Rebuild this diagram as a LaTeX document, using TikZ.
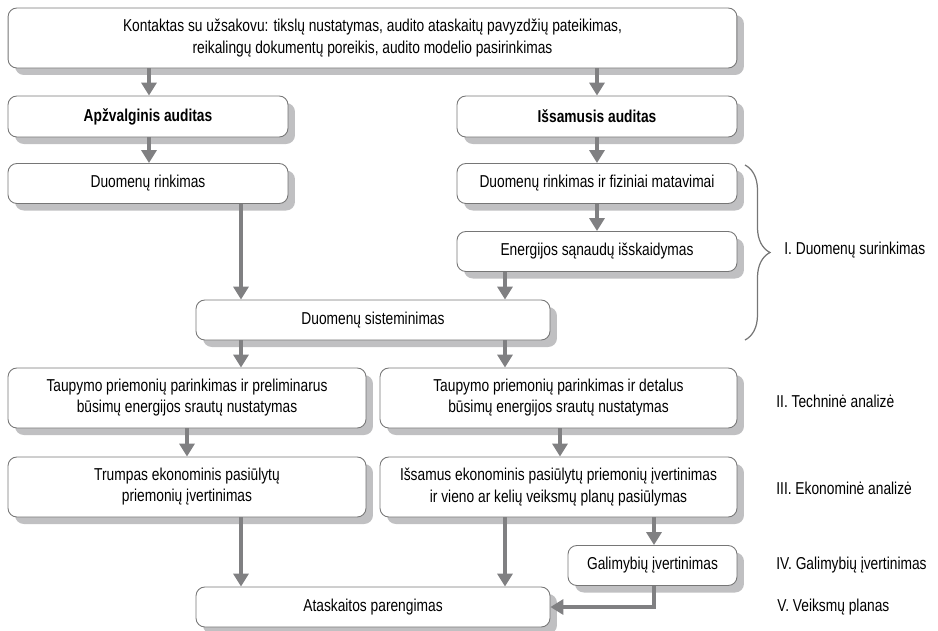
\documentclass[tikz,border=0pt]{standalone}
\usepackage{fontspec}
\setmainfont{Liberation Sans}[FakeStretch=0.8]
\usetikzlibrary{arrows.meta,shadows,decorations.pathreplacing}
\definecolor{rodyklespalva}{RGB}{128,128,130}
\definecolor{seselis}{RGB}{192,192,194}
\definecolor{remelis}{RGB}{118,118,118}
\tikzset{
  blokas/.style={draw=remelis, line width=0.5pt, fill=white, rounded corners=5pt,
    inner sep=0pt, align=center, font=\fontsize{9.8}{12}\selectfont,
    drop shadow={shadow xshift=0.14cm, shadow yshift=-0.14cm, fill=seselis, opacity=1}},
  rodykle/.style={draw=rodyklespalva, line width=2.8pt,
    -{Triangle[width=0.3cm,length=0.26cm]}},
  etape/.style={anchor=west, inner sep=0pt, font=\fontsize{9.8}{12}\selectfont}
}
\begin{document}
\begin{tikzpicture}[x=0.02cm, y=-0.02cm]
        \useasboundingbox (0,0) rectangle (938,630);
        % 上の長方形
        \node[blokas, minimum width=14.58cm, minimum height=1.2cm] (kontaktas) at (372.5,38)
          {Kontaktas su užsakovu: tikslų nustatymas, audito ataskaitų pavyzdžių pateikimas,\\
           reikalingų dokumentų poreikis, audito modelio pasirinkimas};
        % 二つの監査
        \node[blokas, minimum width=5.6cm, minimum height=0.82cm, font=\fontsize{9.8}{12}\selectfont\bfseries] (apzvalginis) at (148,116.5) {Apžvalginis auditas};
        \node[blokas, minimum width=5.6cm, minimum height=0.82cm, font=\fontsize{9.8}{12}\selectfont\bfseries] (issamusis) at (597,116.5) {Išsamusis auditas};
        % I. データ収集
        \node[blokas, minimum width=5.6cm, minimum height=0.8cm] (rinkimas) at (148,183.5) {Duomenų rinkimas};
        \node[blokas, minimum width=5.6cm, minimum height=0.8cm] (matavimai) at (597,183.5) {Duomenų rinkimas ir fiziniai matavimai};
        \node[blokas, minimum width=5.6cm, minimum height=0.8cm] (isskaidymas) at (597,251.5) {Energijos sąnaudų išskaidymas};
        \node[blokas, minimum width=7.08cm, minimum height=0.8cm] (sisteminimas) at (373,320) {Duomenų sisteminimas};
        % II. と III.
        \node[blokas, minimum width=7.16cm, minimum height=1.2cm] (preliminarus) at (187,398)
          {Taupymo priemonių parinkimas ir preliminarus\\ būsimų energijos srautų nustatymas};
        \node[blokas, minimum width=7.14cm, minimum height=1.2cm] (detalus) at (558.5,398)
          {Taupymo priemonių parinkimas ir detalus\\ būsimų energijos srautų nustatymas};
        \node[blokas, minimum width=7.16cm, minimum height=1.2cm] (trumpas) at (187,487)
          {Trumpas ekonominis pasiūlytų\\ priemonių įvertinimas};
        \node[blokas, minimum width=7.14cm, minimum height=1.2cm] (issamus) at (558.5,487)
          {Išsamus ekonominis pasiūlytų priemonių įvertinimas\\ ir vieno ar kelių veiksmų planų pasiūlymas};
        % IV. と V.
        \node[blokas, minimum width=3.38cm, minimum height=0.8cm] (galimybes) at (652.5,565.5) {Galimybių įvertinimas};
        \node[blokas, minimum width=7.08cm, minimum height=0.8cm] (ataskaita) at (373,607) {Ataskaitos parengimas};
        % 矢印の位置
        \coordinate (xa) at (149,0);
        \coordinate (xb) at (597,0);
        \coordinate (xc) at (241,0);
        \coordinate (xd) at (505,0);
        \coordinate (xe) at (187,0);
        \coordinate (xf) at (560,0);
        \coordinate (xg) at (654,0);
        % 矢印
        \draw[rodykle] (kontaktas.south -| xa) -- (apzvalginis.north -| xa);
        \draw[rodykle] (kontaktas.south -| xb) -- (issamusis.north -| xb);
        \draw[rodykle] (apzvalginis.south -| xa) -- (rinkimas.north -| xa);
        \draw[rodykle] (issamusis.south -| xb) -- (matavimai.north -| xb);
        \draw[rodykle] (matavimai.south -| xb) -- (isskaidymas.north -| xb);
        \draw[rodykle] (rinkimas.south -| xc) -- (sisteminimas.north -| xc);
        \draw[rodykle] (isskaidymas.south -| xd) -- (sisteminimas.north -| xd);
        \draw[rodykle] (sisteminimas.south -| xc) -- (preliminarus.north -| xc);
        \draw[rodykle] (sisteminimas.south -| xd) -- (detalus.north -| xd);
        \draw[rodykle] (preliminarus.south -| xe) -- (trumpas.north -| xe);
        \draw[rodykle] (detalus.south -| xf) -- (issamus.north -| xf);
        \draw[rodykle] (trumpas.south -| xc) -- (ataskaita.north -| xc);
        \draw[rodykle] (issamus.south -| xd) -- (ataskaita.north -| xd);
        \draw[rodykle] (issamus.south -| xg) -- (galimybes.north -| xg);
        \draw[rodykle] (galimybes.south -| xg) |- (ataskaita.east);
        % 括弧
        \coordinate (skliaustas1) at (745,165);
        \coordinate (skliaustas2) at (745,340);
        \draw[remelis, line width=0.7pt, decorate, decoration={brace, amplitude=0.5cm}]
          (skliaustas1) -- (skliaustas2);
        % 段階の名前
        \node[etape] (etapas1) at (784,250) {I. Duomenų surinkimas};
        \node[etape] (etapas2) at (776,401) {II. Techninė analizė};
        \node[etape] (etapas3) at (776,488) {III. Ekonominė analizė};
        \node[etape] (etapas4) at (776,565) {IV. Galimybių įvertinimas};
        \node[etape] (etapas5) at (777,607) {V. Veiksmų planas};
      \end{tikzpicture}
\end{document}
